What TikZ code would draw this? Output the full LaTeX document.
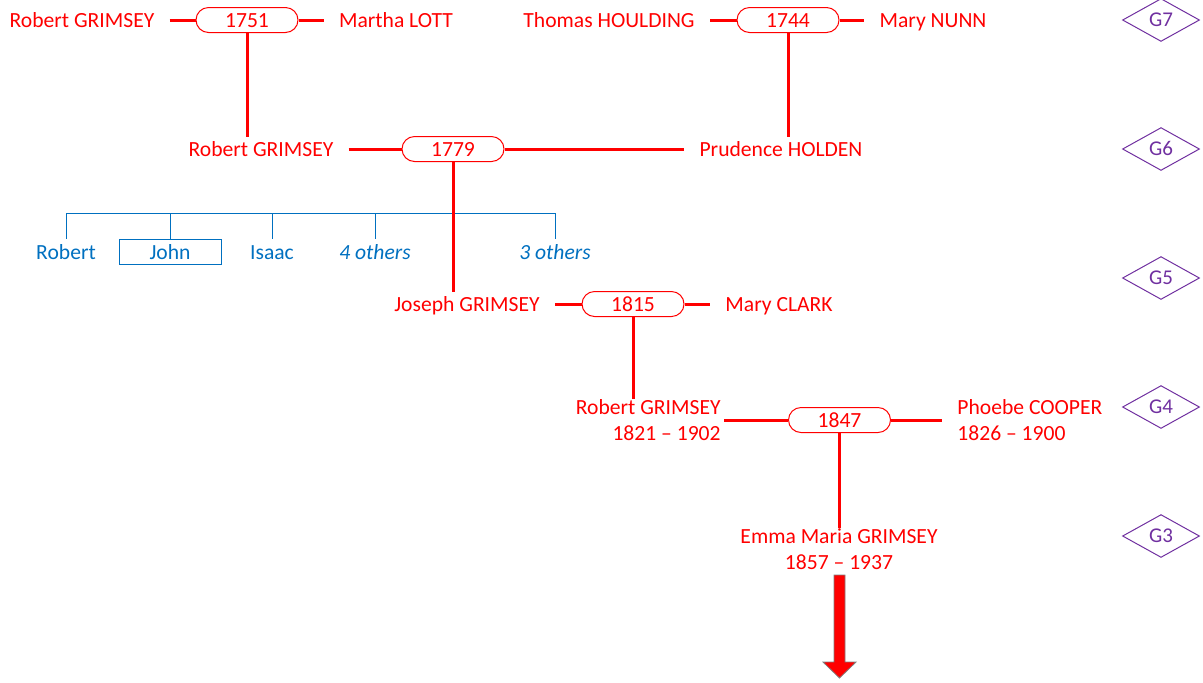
\documentclass[tikz,border=0pt]{standalone}
\usepackage{fontspec}
\setmainfont{Carlito}
\usetikzlibrary{shapes.misc,shapes.geometric}
\definecolor{tred}{HTML}{FF0000}
\definecolor{tblue}{HTML}{0070C0}
\definecolor{tpurple}{HTML}{7030A0}
\definecolor{tgray}{HTML}{7F7F7F}
\tikzset{
  person/.style={text=tred, inner xsep=7.5pt, inner ysep=0pt, text height=9.2pt, text depth=2pt, font=\fontsize{10.8}{13}\selectfont},
  twoline/.style={text height=, text depth=},
  marr/.style={rounded rectangle, draw=tred, line width=0.5pt, text=tred, minimum width=51pt, minimum height=12.5pt, inner sep=0pt, text height=9.2pt, text depth=2pt, font=\fontsize{10.8}{13}\selectfont},
  link/.style={draw=tred, line width=1.5pt},
  kid/.style={text=tblue, minimum height=12.5pt, inner sep=0pt, text height=9.2pt, text depth=2pt, font=\fontsize{10.8}{13}\selectfont},
  kidline/.style={draw=tblue, line width=0.5pt},
  gen/.style={diamond, draw=tpurple, line width=0.5pt, text=tpurple, minimum width=38.5pt, minimum height=13pt, inner sep=0pt, text height=8pt, text depth=1.5pt, font=\fontsize{10.5}{12}\selectfont}
}
\begin{document}
\begin{tikzpicture}[x=0.5pt,y=-0.5pt]
\useasboundingbox (0,0) rectangle (1203,682);
% G7
\node[person] (rg7) at (82,20) {Robert GRIMSEY};
\node[marr] (m1751) at (247,20) {1751};
\node[person] (ml) at (396,20) {Martha LOTT};
\node[person] (th) at (609,20) {Thomas HOULDING};
\node[marr] (m1744) at (788,20) {1744};
\node[person] (mn) at (933,20) {Mary NUNN};
% G6
\node[person] (rg6) at (261,149) {Robert GRIMSEY};
\node[marr] (m1779) at (453,149) {1779};
\node[person] (ph) at (781,149) {Prudence HOLDEN};
% children
\node[kid] (k1) at (66,252) {Robert};
\node[kid, draw=tblue, line width=0.5pt, minimum width=51pt] (k2) at (170,252) {John};
\node[kid] (k3) at (272,252) {Isaac};
\node[kid] (k4) at (375,252) {\itshape 4 others};
\node[kid] (k5) at (555,252) {\itshape 3 others};
\coordinate (bar) at (453,213);
% G5
\node[person] (jg) at (467,304) {Joseph GRIMSEY};
\node[marr] (m1815) at (633,304) {1815};
\node[person] (mc) at (779,304) {Mary CLARK};
% G4
\node[person, twoline, inner xsep=1.5pt, align=right, anchor=east] (rg4) at (724,420) {Robert GRIMSEY\\1821 -- 1902};
\node[marr] (m1847) at (839.5,420) {1847};
\node[person, twoline, align=left, anchor=west] (pc) at (942,420) {Phoebe COOPER\\1826 -- 1900};
% G3
\node[person, twoline, align=center] (emma) at (839,549) {Emma Maria GRIMSEY\\1857 -- 1937};
% generation markers
\node[gen] (g7) at (1161,20) {G7};
\node[gen] (g6) at (1161,149) {G6};
\node[gen] (g5) at (1161,278) {G5};
\node[gen] (g4) at (1161,407) {G4};
\node[gen] (g3) at (1161,536) {G3};
% children tree
\draw[kidline] (k1.north |- bar) -- (k5.north |- bar);
\foreach \k in {k1,k2,k3,k4,k5} \draw[kidline] (\k.north |- bar) -- (\k.north);
% links
\draw[link] (rg7.east) -- (m1751.west);
\draw[link] (m1751.east) -- (ml.west);
\draw[link] (th.east) -- (m1744.west);
\draw[link] (m1744.east) -- (mn.west);
\draw[link] (m1751.south) -- (m1751.south |- rg6.north);
\draw[link] (m1744.south) -- (m1744.south |- ph.north);
\draw[link] (rg6.east) -- (m1779.west);
\draw[link] (m1779.east) -- (ph.west);
\draw[link] (m1779.south) -- (m1779.south |- jg.north);
\draw[link] (jg.east) -- (m1815.west);
\draw[link] (m1815.east) -- (mc.west);
\draw[link] (m1815.south) -- (m1815.south |- rg4.north);
\draw[link] (rg4.east) -- (m1847.west);
\draw[link] (m1847.east) -- (pc.west);
\draw[link] (m1847.south) -- (m1847.south |- emma.north);
% arrow
\draw[fill=tred, draw=tgray, line width=0.4pt] (834,575) -- (845,575) -- (845,662) -- (856,662) -- (839.5,678) -- (823,662) -- (834,662) -- cycle;
\end{tikzpicture}
\end{document}
